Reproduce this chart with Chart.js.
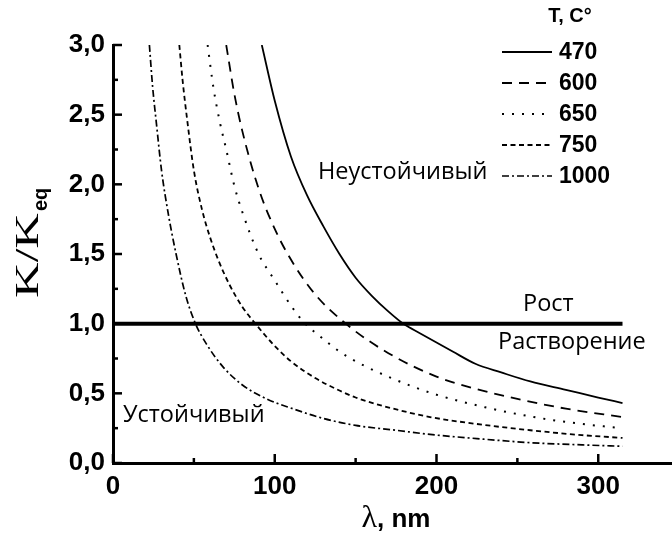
<!DOCTYPE html>
<html><head><meta charset="utf-8">
<script src="https://cdn.jsdelivr.net/npm/chart.js@4"></script>
<style>html,body{margin:0;padding:0;background:#fff}</style>
</head><body>
<canvas id="c" width="672" height="535" style="width:672px;height:535px;display:block"></canvas>
<script>
// ---- data ----
const seriesNames = ['470', '600', '650', '750', '1000'];
const x470  = [92, 100, 110, 120, 130, 140, 150, 160, 170, 180, 190, 200, 210, 224, 240, 258, 280, 300, 315];
const y470  = [3.0, 2.6, 2.2, 1.92, 1.70, 1.50, 1.33, 1.20, 1.09, 0.995, 0.93, 0.865, 0.80, 0.712, 0.65, 0.585, 0.525, 0.47, 0.43];
const x600  = [70, 75, 80, 90, 100, 110, 125, 145, 170, 200, 225, 250, 280, 315];
const y600  = [3.0, 2.65, 2.38, 1.97, 1.68, 1.46, 1.21, 0.99, 0.79, 0.62, 0.53, 0.46, 0.39, 0.33];
const x650  = [58.5, 62, 66, 70, 75, 80, 90, 100, 110, 118, 130, 140, 155, 170, 185, 200, 230, 260, 290, 315];
const y650  = [3.0, 2.7, 2.45, 2.25, 1.99, 1.80, 1.50, 1.31, 1.13, 1.01, 0.89, 0.80, 0.70, 0.62, 0.55, 0.49, 0.40, 0.33, 0.28, 0.25];
const x750  = [41, 43, 46, 50, 55, 60, 65, 72, 80, 88, 100, 110, 125, 140, 150, 170, 196, 225, 258, 290, 315];
const y750  = [3.0, 2.75, 2.45, 2.1, 1.82, 1.62, 1.46, 1.28, 1.12, 1.0, 0.84, 0.73, 0.61, 0.52, 0.47, 0.40, 0.33, 0.28, 0.235, 0.20, 0.18];
const x1000 = [22.5, 24.5, 27, 30, 34, 39, 45, 51, 58, 68, 80, 95, 111, 130, 150, 175, 196, 225, 258, 290, 315];
const y1000 = [3.0, 2.7, 2.42, 2.1, 1.8, 1.5, 1.2, 1.0, 0.85, 0.69, 0.56, 0.46, 0.39, 0.32, 0.27, 0.235, 0.205, 0.175, 0.146, 0.13, 0.12];
const xLine = [0, 315];
const yLine = [1, 1];
const xMajorTicks = [0, 100, 200, 300];
const xMinorTicks = [50, 150, 250];
const yMajorTicks = [0, 0.5, 1.0, 1.5, 2.0, 2.5, 3.0];
const yMinorTicks = [0.25, 0.75, 1.25, 1.75, 2.25, 2.75];
const legendTitle = 'T, C°';
const regionLabels = ['Неустойчивый', 'Рост', 'Растворение', 'Устойчивый'];
const xTitle = ['λ', ', nm'];
const yTitle = ['K/K', 'eq'];

const xs = [x470, x600, x650, x750, x1000];
const ys = [y470, y600, y650, y750, y1000];
const dashes = [[], [10, 7], [2, 8], [5, 3.5], [7, 3, 2, 3]];
const widths = [1.8, 1.8, 2, 1.8, 1.7];

const pts = (a, b) => a.map((v, i) => ({x: v, y: b[i]}));

const datasets = [{
  label: 'K=Keq', data: pts(xLine, yLine), borderColor: '#000', borderWidth: 4,
  pointRadius: 0, fill: false, tension: 0
}];
seriesNames.forEach((n, i) => datasets.push({
  label: n, data: pts(xs[i], ys[i]), borderColor: '#000', borderWidth: widths[i],
  borderDash: dashes[i], pointRadius: 0, fill: false, cubicInterpolationMode: 'monotone'
}));

const tickFont = {family: 'Liberation Sans, Arial, sans-serif', size: 26, weight: 'bold'};
const fmt = v => Number(v).toFixed(1).replace('.', ',');

const deco = {
  id: 'deco',
  afterDraw(chart) {
    const ctx = chart.ctx, xs_ = chart.scales.x, ys_ = chart.scales.y;
    const a = chart.chartArea;
    ctx.save();
    ctx.strokeStyle = '#000'; ctx.fillStyle = '#000'; ctx.lineWidth = 2.5; ctx.setLineDash([]);
    // inward ticks
    const xt = (list, len) => list.forEach(v => { const p = xs_.getPixelForValue(v);
      ctx.beginPath(); ctx.moveTo(p, a.bottom); ctx.lineTo(p, a.bottom - len); ctx.stroke(); });
    const yt = (list, len) => list.forEach(v => { const p = ys_.getPixelForValue(v);
      ctx.beginPath(); ctx.moveTo(a.left, p); ctx.lineTo(a.left + len, p); ctx.stroke(); });
    xt(xMajorTicks, 9); xt(xMinorTicks, 5); yt(yMajorTicks, 9); yt(yMinorTicks, 5);

    // region labels
    ctx.font = '23.5px "Open Sans", sans-serif';
    ctx.textBaseline = 'middle'; ctx.textAlign = 'left';
    const lp = [[318, 172], [523, 304], [498, 342], [123, 415]];
    regionLabels.forEach((t, i) => ctx.fillText(t, lp[i][0], lp[i][1]));

    // x title
    ctx.textBaseline = 'alphabetic';
    ctx.font = '32px "Liberation Serif", serif';
    const w1 = ctx.measureText(xTitle[0]).width;
    ctx.font = 'bold 26px "Liberation Sans", Arial, sans-serif';
    const w2 = ctx.measureText(xTitle[1]).width;
    let sx = 396 - (w1 + w2) / 2;
    ctx.font = '32px "Liberation Serif", serif';
    ctx.fillText(xTitle[0], sx, 527);
    ctx.font = 'bold 26px "Liberation Sans", Arial, sans-serif';
    ctx.fillText(xTitle[1], sx + w1, 527);

    // y title (rotated)
    ctx.save();
    ctx.translate(38, 298);
    ctx.rotate(-Math.PI / 2);
    ctx.font = '34px "Liberation Serif", serif';
    const kw = ctx.measureText(yTitle[0]).width;
    ctx.save(); ctx.scale(85 / kw, 1);
    ctx.fillText(yTitle[0], 0, 0);
    ctx.restore();
    ctx.font = 'bold 20px "Liberation Sans", Arial, sans-serif';
    ctx.fillText(yTitle[1], 87, 9);
    ctx.restore();

    // legend
    ctx.font = 'bold 20px "Liberation Sans", Arial, sans-serif';
    ctx.textAlign = 'center'; ctx.textBaseline = 'middle';
    ctx.fillText(legendTitle, 570, 16);
    ctx.textAlign = 'left';
    ctx.font = 'bold 23px "Liberation Sans", Arial, sans-serif';
    seriesNames.forEach((n, i) => {
      const y = 52 + i * 31;
      ctx.lineWidth = widths[i]; ctx.setLineDash(dashes[i]);
      ctx.beginPath(); ctx.moveTo(502, y); ctx.lineTo(552, y); ctx.stroke();
      ctx.fillText(n, 559, y + 1);
    });
    ctx.restore();
  }
};

new Chart(document.getElementById('c'), {
  type: 'line',
  data: {datasets},
  options: {
    responsive: false, animation: false, devicePixelRatio: 1,
    layout: {padding: {top: 45, right: 0, left: 0, bottom: 0}},
    plugins: {legend: {display: false}, tooltip: {enabled: false}},
    scales: {
      x: {
        type: 'linear', min: 0, max: 345.6,
        afterFit: s => { s.height = 72; },
        ticks: {stepSize: 100, includeBounds: false, font: tickFont, color: '#000', padding: 8,
                maxRotation: 0, autoSkip: false, callback: v => String(v)},
        grid: {display: true, drawOnChartArea: false, drawTicks: false},
        border: {display: true, width: 3, color: '#000'}
      },
      y: {
        type: 'linear', min: 0, max: 3,
        afterFit: s => { s.width = 113; },
        ticks: {stepSize: 0.5, font: tickFont, color: '#000', padding: 8, callback: v => fmt(v)},
        grid: {display: true, drawOnChartArea: false, drawTicks: false},
        border: {display: true, width: 3, color: '#000'}
      }
    }
  },
  plugins: [deco]
});
</script>
</body></html>
